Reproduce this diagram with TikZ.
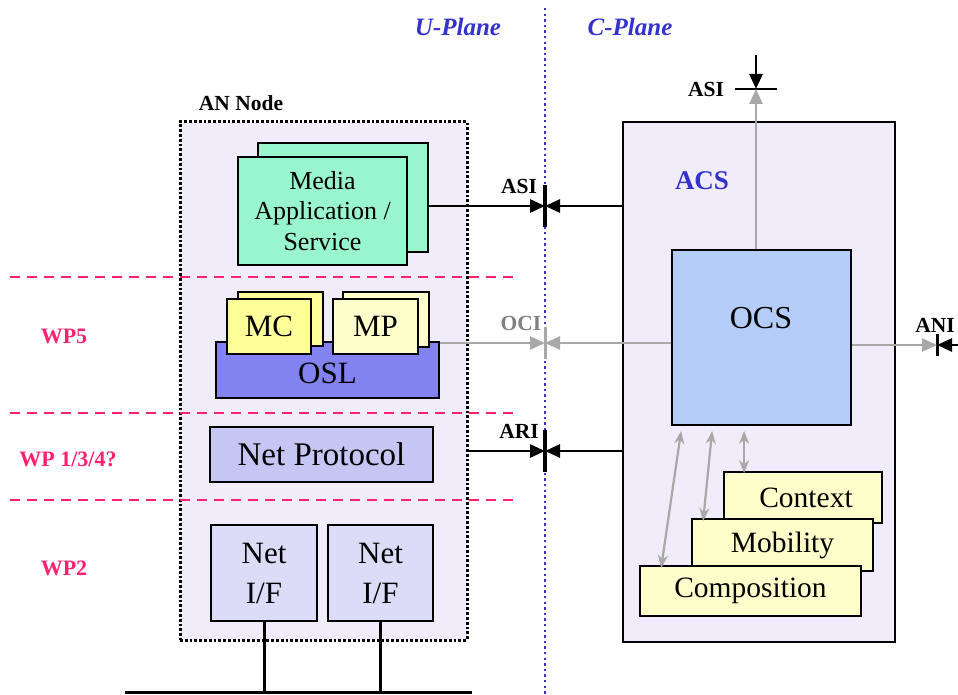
\documentclass[tikz,border=0pt]{standalone}
\usepackage{fontspec}
\setmainfont{Liberation Serif}
\usetikzlibrary{arrows.meta}

\definecolor{lav}{HTML}{F0ECFA}
\definecolor{mint}{HTML}{99F5CC}
\definecolor{mcyel}{HTML}{FFFF99}
\definecolor{cream}{HTML}{FFFFCC}
\definecolor{oslblue}{HTML}{8282F0}
\definecolor{netlav}{HTML}{C6C6F5}
\definecolor{niflav}{HTML}{DCDCF8}
\definecolor{ocsblue}{HTML}{B3CCF8}
\definecolor{wppink}{HTML}{FF2070}
\definecolor{planeblue}{HTML}{3333CC}
\definecolor{ifgray}{HTML}{A8A8A8}

\tikzset{
  blk/.style={draw=black, line width=1.8pt, inner sep=0pt, align=center},
  tag/.style={font=\bfseries\fontsize{21.5}{24}\selectfont},
  wp/.style={font=\bfseries\fontsize{22}{26}\selectfont, text=wppink},
  plane/.style={font=\bfseries\itshape\fontsize{25}{28}\selectfont, text=planeblue},
  vbar/.style={fill=black, inner sep=0pt, minimum width=4.5pt},
  hbar/.style={fill=black, inner sep=0pt, minimum height=2.8pt},
  iface/.style={line width=2.8pt, -{Triangle[length=15pt,width=13pt]}},
  giface/.style={line width=2.6pt, draw=ifgray, -{Triangle[length=15pt,width=13pt]}, color=ifgray},
  gdbl/.style={line width=2.2pt, draw=ifgray, {Stealth[length=13pt,width=10pt]}-{Stealth[length=13pt,width=10pt]}, color=ifgray},
  wpline/.style={draw=wppink, line width=1.8pt, dash pattern=on 10pt off 7pt},
}

\begin{document}
\begin{tikzpicture}[x=1pt,y=-1pt]
\useasboundingbox (0,0) rectangle (958,695);
\fill[white] (0,0) rectangle (958,695);

% plane titles
\node[plane] (uplane) at (458,27) {U-Plane};
\node[plane] (cplane) at (630,27) {C-Plane};

% AN node container
\node[draw=black, fill=lav, line width=3pt, dash pattern=on 2.8pt off 2pt,
      minimum width=287pt, minimum height=518pt, inner sep=0pt] (an) at (323.5,381) {};
\node[tag] (anlabel) at (241,103) {AN Node};

% ACS container
\node[draw=black, fill=lav, line width=1.6pt, minimum width=272pt, minimum height=520pt, inner sep=0pt] (acs) at (759,382) {};
\node[font=\bfseries\fontsize{27}{30}\selectfont, text=planeblue] (acslabel) at (702,181) {ACS};

% dotted U/C divider
\coordinate (divtop) at (545,8);
\coordinate (divbot) at (545,695);
\draw[planeblue, line width=2.4pt, dash pattern=on 2.4pt off 3.2pt] (divtop) -- (divbot);

% media application / service
\node[blk, fill=mint, minimum width=170pt, minimum height=109pt] (appback) at (343,197.5) {};
\node[blk, fill=mint, minimum width=169pt, minimum height=108pt,
      font=\fontsize{26}{30.5}\selectfont] (app) at (322.5,211) {Media\\Application /\\Service};

% OSL with MC and MP
\node[blk, fill=oslblue, minimum width=223pt, minimum height=56pt, text depth=0pt,
      font=\fontsize{31}{34}\selectfont] (osl) at (327.5,370) {\raisebox{-7pt}{OSL}};
\node[blk, fill=mcyel, minimum width=85pt, minimum height=54pt] (mcback) at (280.5,319) {};
\node[blk, fill=mcyel, minimum width=84pt, minimum height=55pt,
      font=\fontsize{31}{34}\selectfont] (mc) at (269,326.5) {MC};
\node[blk, fill=cream, minimum width=86pt, minimum height=55pt] (mpback) at (386,319.5) {};
\node[blk, fill=cream, minimum width=85pt, minimum height=55pt,
      font=\fontsize{31}{34}\selectfont] (mp) at (375.5,326.5) {MP};

% net protocol and interfaces
\node[blk, fill=netlav, minimum width=223pt, minimum height=55pt,
      font=\fontsize{33}{36}\selectfont] (netp) at (321.5,454.5) {Net Protocol};
\node[blk, fill=niflav, minimum width=106pt, minimum height=96pt,
      font=\fontsize{31}{40}\selectfont] (nif1) at (264,573) {Net\\I/F};
\node[blk, fill=niflav, minimum width=105pt, minimum height=96pt,
      font=\fontsize{31}{40}\selectfont] (nif2) at (380.5,573) {Net\\I/F};

% network attachment
\coordinate (busl) at (125,692);
\coordinate (busr) at (472,692);
\draw[line width=3pt] (busl) -- (busr);
\draw[line width=3pt] (nif1.south) -- (nif1.south |- busl);
\draw[line width=3pt] (nif2.south) -- (nif2.south |- busl);

% work package boundaries
\coordinate (wpa) at (10,277);
\coordinate (wpb) at (10,413);
\coordinate (wpc) at (10,500);
\draw[wpline] (wpa) -- ++(510,0);
\draw[wpline] (wpb) -- ++(510,0);
\draw[wpline] (wpc) -- ++(510,0);
\node[wp] (wp5) at (64,336) {WP5};
\node[wp] (wp134) at (68,459) {WP 1/3/4?};
\node[wp] (wp2) at (64,568) {WP2};

% OCS and its modules
\node[blk, fill=ocsblue, minimum width=179pt, minimum height=175pt] (ocs) at (761.5,337.5) {};
\node[font=\fontsize{32}{36}\selectfont] (ocstext) at (761,318) {OCS};
\node[blk, fill=cream, minimum width=158pt, minimum height=51pt,
      font=\fontsize{29.5}{32}\selectfont] (ctx) at (803,497.5) {\hspace*{6pt}Context};
\node[blk, fill=cream, minimum width=181pt, minimum height=52pt,
      font=\fontsize{29.5}{32}\selectfont] (mob) at (782.5,545) {Mobility};
\node[blk, fill=cream, minimum width=221pt, minimum height=50pt,
      font=\fontsize{29.5}{32}\selectfont] (comp) at (750.5,591) {Composition};

\draw[gdbl] ([xshift=10pt,yshift=-5pt]ocs.south west) -- ([xshift=22pt,yshift=-3pt]comp.north west);
\draw[gdbl] ([xshift=41pt,yshift=-5pt]ocs.south west) -- ([xshift=12pt,yshift=-3pt]mob.north west);
\draw[gdbl] ([xshift=73pt,yshift=-5pt]ocs.south west) -- ([xshift=21pt,yshift=-2pt]ctx.north west);

% ASI between application and ACS
\node[vbar, minimum height=42pt] (asibar) at (545,206) {};
\node[tag] (asilabel) at (519,186) {ASI};
\draw[iface] (appback.east |- asibar) -- (asibar.center);
\draw[iface] (acs.west |- asibar) -- (asibar.center);

% ARI between AN node and ACS
\node[vbar, minimum height=42pt] (aribar) at (545,451) {};
\node[tag] (arilabel) at (519,431) {ARI};
\draw[iface] (an.east |- aribar) -- (aribar.center);
\draw[iface] (acs.west |- aribar) -- (aribar.center);

% OCI between OSL and OCS
\node[fill=ifgray, inner sep=0pt, minimum width=3pt, minimum height=32pt] (ocibar) at (545,343) {};
\node[tag, text=gray] (ocilabel) at (521,323) {OCI};
\draw[giface] (osl.east |- ocibar) -- (ocibar.center);
\draw[giface] (ocs.west |- ocibar) -- (ocibar.center);

% ASI on top of ACS
\node[hbar, minimum width=42pt] (asitop) at (756,89) {};
\node[tag] (asitoplabel) at (706,89) {ASI};
\coordinate (asiext) at (756,55);
\draw[giface] (ocs.north -| asitop) -- (asitop.center);
\draw[iface] (asiext) -- (asitop.center);

% ANI on the right of ACS
\node[fill=black, inner sep=0pt, minimum width=3pt, minimum height=22pt] (anibar) at (937,345) {};
\node[tag] (anilabel) at (935,325) {ANI};
\coordinate (aniext) at (958,345);
\draw[giface] (ocs.east |- anibar) -- (anibar.center);
\draw[iface] (aniext) -- (anibar.center);
\end{tikzpicture}
\end{document}
